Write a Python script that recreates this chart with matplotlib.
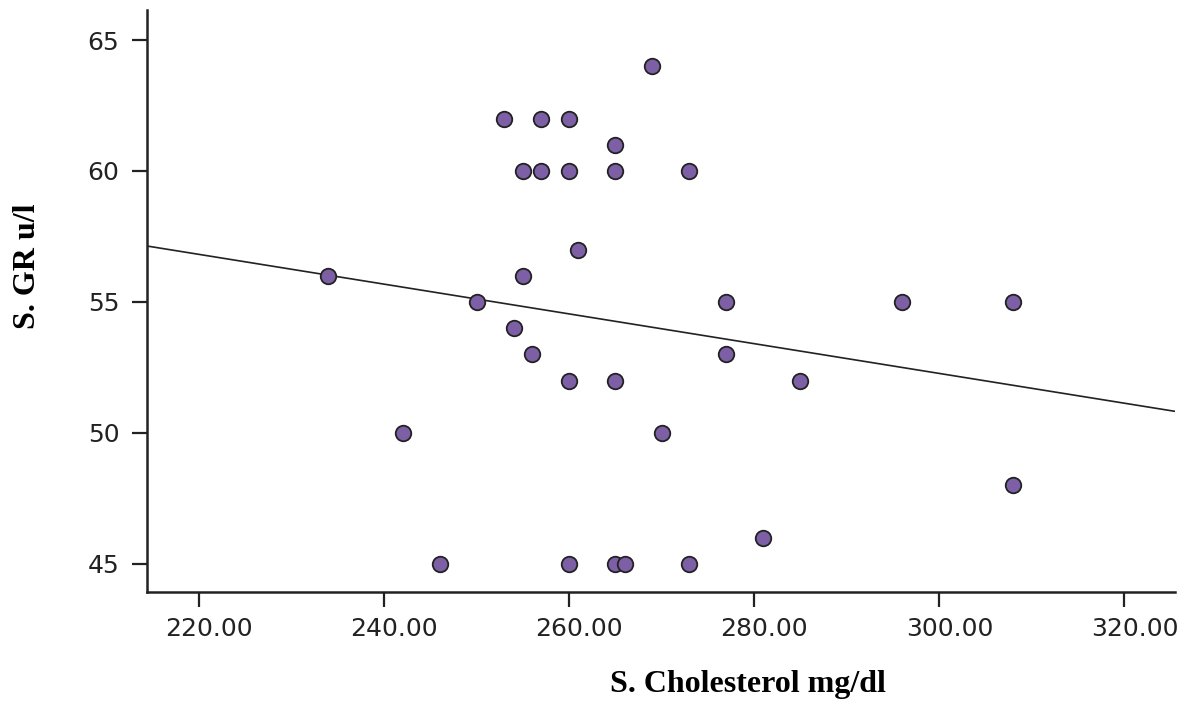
import numpy as np
import matplotlib.pyplot as plt
import matplotlib.transforms as mtrans

# S. Cholesterol (mg/dl) vs S. GR (u/l)
chol = [234, 242, 246, 250, 253, 254, 255, 255, 256, 257, 257, 260, 260, 260, 260,
        261, 265, 265, 265, 265, 266, 269, 270, 273, 273, 277, 277, 281, 285, 296,
        308, 308]
gr = [56, 50, 45, 55, 62, 54, 60, 56, 53, 62, 60, 62, 60, 52, 45,
      57, 61, 60, 52, 45, 45, 64, 50, 60, 45, 55, 53, 46, 52, 55,
      55, 48]

xticks = [220, 240, 260, 280, 300, 320]
yticks = [45, 50, 55, 60, 65]

fig = plt.figure(figsize=(11.86, 7.08), dpi=100)
ax = fig.add_axes([0.124, 0.164, 0.867, 0.822])

ax.scatter(chol, gr, s=125, color='#7d5fa6', edgecolors='#222222',
           linewidths=1.3, zorder=3)

# linear fit line across the whole x range
xlim = (214.4, 325.5)
slope, icpt = np.polyfit(chol, gr, 1)
xs = np.array(xlim)
ax.plot(xs, icpt + slope * xs, color='#222222', lw=1.2, zorder=2)

ax.set_xlim(xlim)
ax.set_ylim(43.93, 66.15)
ax.set_xticks(xticks)
ax.set_xticklabels(['%.2f' % v for v in xticks])
ax.set_yticks(yticks)

for s in ['top', 'right']:
    ax.spines[s].set_visible(False)
for s in ['left', 'bottom']:
    ax.spines[s].set_linewidth(1.8)
    ax.spines[s].set_color('#222222')

ax.tick_params(axis='both', labelsize=18, colors='#222222', width=1.6,
               length=11)
ax.tick_params(axis='y', pad=9)
ax.tick_params(axis='x', pad=7)

# x tick labels sit a little to the right of their ticks
shift = mtrans.ScaledTranslation(0.10, 0, fig.dpi_scale_trans)
for lbl in ax.get_xticklabels():
    lbl.set_transform(lbl.get_transform() + shift)

fig.text(0.631, 0.022, 'S. Cholesterol mg/dl', fontsize=23, fontweight='bold',
         family='Liberation Serif', ha='center', va='baseline')
fig.text(0.023, 0.624, 'S. GR u/l', fontsize=23, fontweight='bold',
         family='Liberation Serif', ha='center', va='center', rotation=90)

fig.savefig('out.png', dpi=100)
